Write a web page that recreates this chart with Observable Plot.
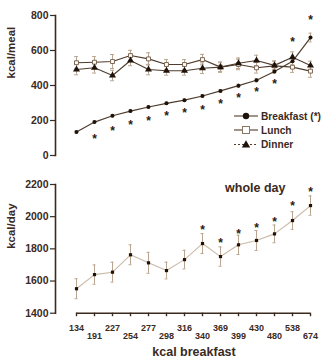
<!DOCTYPE html>
<html><head><meta charset="utf-8">
<script src="https://cdn.jsdelivr.net/npm/d3@7"></script>
<script src="https://cdn.jsdelivr.net/npm/@observablehq/plot@0.6"></script>
<style>
html,body{margin:0;padding:0;background:#fff;}
#wrap{position:relative;width:330px;height:362px;overflow:hidden;font-family:"Liberation Sans",Arial,sans-serif;}
#topPanel,#botPanel,#legend{position:absolute;left:0;}
#topPanel{top:0}#botPanel{top:170px}#legend{top:0;pointer-events:none}
</style></head><body>
<div id="wrap"><div id="topPanel"></div><div id="botPanel"></div><svg id="legend" width="330" height="170"></svg></div>
<script>
// x categories (kcal breakfast)
const labels = ["134","191","227","254","277","298","316","340","369","399","430","480","538","674"];
// top panel: kcal/meal
const breakfast    = [134,191,227,254,277,298,316,340,369,399,430,480,538,674];
const breakfastErr = [6,6,7,7,7,7,8,8,8,9,10,11,20,25];
const lunch        = [530,533,537,571,552,520,520,548,505,520,501,512,505,482];
const lunchErr     = [35,32,40,30,35,28,28,30,30,30,30,28,30,35];
const dinner       = [491,501,457,543,491,484,484,499,505,527,543,515,562,514];
const dinnerErr    = [30,30,30,30,30,25,25,30,25,30,30,25,30,25];
const starTop      = [null,110,156,190,215,244,261,280,314,347,381,429,667,790];
const yTicksTop    = [0,200,400,600,800];
// bottom panel: kcal/day whole day
const wholeDay     = [1552,1640,1655,1763,1713,1665,1733,1833,1752,1825,1852,1893,1976,2069];
const wholeDayErr  = [62,60,62,62,65,52,58,62,60,60,62,55,55,60];
const starBot      = [null,null,null,null,null,null,null,1935,1858,1913,1949,1986,2083,2173];
const yTicksBot    = [1400,1600,1800,2000,2200];
const seriesNames  = ["Breakfast (*)","Lunch","Dinner"];

const ink = "#3b2a1d", lineCol = "#4f3d2e", errCol = "#b9a58f", dayLine = "#cbb9a5";
const font = "'Liberation Sans', Arial, sans-serif";
const narrow = "'Liberation Sans Narrow', 'Liberation Sans', Arial, sans-serif";

const rows = labels.map((l,i)=>({l, b:breakfast[i], bE:breakfastErr[i], lu:lunch[i], luE:lunchErr[i],
  d:dinner[i], dE:dinnerErr[i], w:wholeDay[i], wE:wholeDayErr[i], st:starTop[i], sb:starBot[i]}));

function errBars(y, e, col, w) {
  return [
    Plot.ruleX(rows, {x:"l", y1:r=>r[y]-r[e], y2:r=>r[y]+r[e], stroke:col, strokeWidth:1}),
    Plot.ruleY(rows, {x1:"l", x2:"l", y:r=>r[y]-r[e], stroke:col, insetLeft:-w, insetRight:-w}),
    Plot.ruleY(rows, {x1:"l", x2:"l", y:r=>r[y]+r[e], stroke:col, insetLeft:-w, insetRight:-w})
  ];
}

const topChart = Plot.plot({
  width:330, height:170, marginLeft:55, marginRight:18, marginTop:15, marginBottom:15,
  style:{fontFamily:font, color:ink, background:"transparent", overflow:"visible"},
  x:{type:"point", domain:labels, padding:0, insetLeft:18, axis:null},
  y:{domain:[0,800]},
  marks:[
    Plot.axisY(yTicksTop, {tickSize:5, tickPadding:2, fontSize:10.5, fontWeight:"bold", label:null, tickFormat:d=>String(d), strokeWidth:1.2}),
    Plot.frame({anchor:"left", stroke:ink, strokeWidth:1.6}),
    Plot.text(["kcal/meal"], {frameAnchor:"left", rotate:-90, dx:-44, dy:-7, fontSize:11.5, fontWeight:"bold", fill:ink}),
    ...errBars("lu","luE",errCol,2),
    ...errBars("d","dE",errCol,2),
    ...errBars("b","bE",errCol,1.5),
    Plot.line(rows, {x:"l", y:"lu", stroke:lineCol, strokeWidth:1.1}),
    Plot.line(rows, {x:"l", y:"d", stroke:lineCol, strokeWidth:1.1}),
    Plot.line(rows, {x:"l", y:"b", stroke:lineCol, strokeWidth:1.2}),
    Plot.dot(rows, {x:"l", y:"lu", symbol:"square", r:2.2, fill:"#fff", stroke:"#7a6652", strokeWidth:1}),
    Plot.dot(rows, {x:"l", y:"d", symbol:"triangle", r:2.6, fill:"#1e120a"}),
    Plot.dot(rows, {x:"l", y:"b", r:2, fill:"#1e120a"}),
    Plot.text(rows.filter(r=>r.st!=null), {x:"l", y:"st", text:()=>"*", fontSize:12, fontWeight:"bold", fill:"#2a1b10", lineAnchor:"middle", dy:3.3})
  ]
});
document.getElementById("topPanel").appendChild(topChart);

const evenL = labels.filter((d,i)=>i%2===0), oddL = labels.filter((d,i)=>i%2===1);
const botChart = Plot.plot({
  width:330, height:192, marginLeft:55, marginRight:18, marginTop:14, marginBottom:49.3,
  style:{fontFamily:font, color:ink, background:"transparent", overflow:"visible"},
  x:{type:"point", domain:labels, padding:0, insetLeft:18},
  y:{domain:[1400,2200]},
  marks:[
    Plot.axisY(yTicksBot, {tickSize:5, tickPadding:2, fontSize:10.5, fontWeight:"bold", label:null, tickFormat:d=>String(d), strokeWidth:1.2}),
    Plot.frame({anchor:"left", stroke:ink, strokeWidth:1.6}),
    Plot.ruleY([1400], {x1:()=>labels[0], x2:()=>labels[labels.length-1], stroke:ink, strokeWidth:1.4}),
    Plot.axisX(evenL, {tickSize:3.5, tickPadding:8, fontSize:9, fontWeight:"bold", fontFamily:narrow, label:null, strokeWidth:1.4}),
    Plot.axisX(oddL, {tickSize:3.5, tickPadding:16, fontSize:9, fontWeight:"bold", fontFamily:narrow, label:null, strokeWidth:1.4}),
    Plot.text(["kcal/day"], {frameAnchor:"left", rotate:-90, dx:-44, dy:0, fontSize:11.5, fontWeight:"bold", fill:ink}),
    Plot.text(["kcal breakfast"], {frameAnchor:"bottom", dx:10, dy:39, fontSize:12.5, fontWeight:"bold", fill:ink, lineAnchor:"middle"}),
    Plot.text(["whole day"], {frameAnchor:"top-right", textAnchor:"end", lineAnchor:"middle", dx:-27, dy:3, fontSize:12.5, fontWeight:"bold", fill:ink}),
    ...errBars("w","wE",errCol,1.5),
    Plot.line(rows, {x:"l", y:"w", stroke:dayLine, strokeWidth:1.1}),
    Plot.dot(rows, {x:"l", y:"w", symbol:"square", r:1.8, fill:"#1e120a"}),
    Plot.text(rows.filter(r=>r.sb!=null), {x:"l", y:"sb", text:()=>"*", fontSize:12, fontWeight:"bold", fill:"#2a1b10", lineAnchor:"middle", dy:3.3})
  ]
});
document.getElementById("botPanel").appendChild(botChart);

// legend
const lg = d3.select("#legend");
const ly = [116, 130, 144.5];
seriesNames.forEach((name,i)=>{
  const g = lg.append("g");
  g.append("line").attr("x1",234).attr("x2",258).attr("y1",ly[i]).attr("y2",ly[i])
    .attr("stroke", lineCol).attr("stroke-width",1.1).attr("stroke-dasharray", i===2 ? "2,2" : null);
  if (i===0) g.append("circle").attr("cx",246).attr("cy",ly[i]).attr("r",3.2).attr("fill","#1e120a");
  if (i===1) g.append("rect").attr("x",242.5).attr("y",ly[i]-3.5).attr("width",7).attr("height",7).attr("fill","#fff").attr("stroke","#8a7661");
  if (i===2) g.append("path").attr("d", d3.symbol(d3.symbolTriangle, 30)()).attr("transform",`translate(246,${ly[i]+0.5})`).attr("fill","#1e120a");
  g.append("text").attr("x",261).attr("y",ly[i]+3.7).attr("font-family",font).attr("font-size",10.2)
    .attr("font-weight","bold").attr("fill",ink).text(name);
});
</script>
</body></html>
